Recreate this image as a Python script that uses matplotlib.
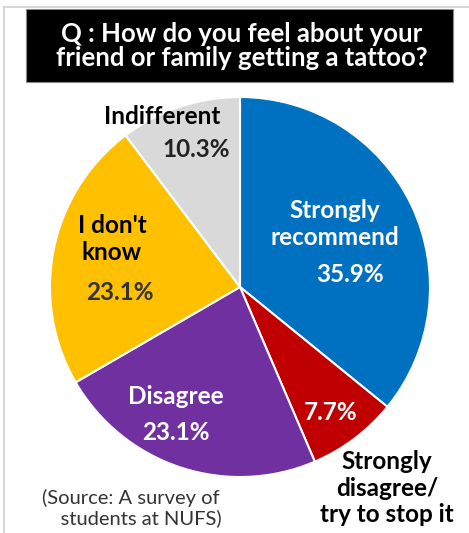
import matplotlib.pyplot as plt
from matplotlib.patches import Rectangle

# data
categories = ['Strongly\nrecommend', 'Strongly disagree/\ntry to stop it', 'Disagree', "I don't\nknow", 'Indifferent']
shares = [35.9, 7.7, 23.1, 23.1, 10.3]
colors = ['#0070C0', '#C00000', '#7030A0', '#FFC000', '#D9D9D9']

W, H = 469, 533
fig = plt.figure(figsize=(W / 100, H / 100), dpi=100)
fig.patch.set_facecolor('white')
plt.rcParams['font.family'] = ['Lato', 'DejaVu Sans']


def px(x, y):
    # pixel coords (top-left origin) -> figure fraction
    return x / W, 1 - y / H


# outer light frame (top and left)
fig.add_artist(plt.Line2D([4 / W, 1], [1 - 7 / H, 1 - 7 / H], color='#d0d0d0', lw=1.2))
fig.add_artist(plt.Line2D([4 / W, 4 / W], [0, 1 - 7 / H], color='#d0d0d0', lw=1.2))

# title box
x0, y0 = px(26, 82)
fig.add_artist(Rectangle((x0, y0), (453 - 26) / W, (82 - 9) / H, transform=fig.transFigure,
                         facecolor='black', edgecolor='#888888', lw=0.8))
fig.text(*px(242, 46), 'Q : How do you feel about your\nfriend or family getting a tattoo?',
         color='white', fontsize=18.5, fontweight='bold', ha='center', va='center', linespacing=1.05)

# pie
cx, cy, r = 240, 287, 190
ax = fig.add_axes([(cx - r) / W, (H - cy - r) / H, 2 * r / W, 2 * r / H])
ax.pie(shares, colors=colors, startangle=90, counterclock=False,
       wedgeprops=dict(edgecolor='white', linewidth=1.5))
ax.set_xlim(-1, 1)
ax.set_ylim(-1, 1)
ax.set_aspect('equal')
ax.axis('off')

bold = dict(fontsize=17.5, fontweight='bold', ha='center', va='center', linespacing=1.2)

fig.text(*px(335, 224), 'Strongly\nrecommend', color='white', **bold)
fig.text(*px(350, 274), f'{shares[0]}%', color='white', **bold)
fig.text(*px(331, 412), f'{shares[1]}%', color='white', **bold)
fig.text(*px(387, 488), 'Strongly\ndisagree/\ntry to stop it', color='black', **bold)
fig.text(*px(176, 396), 'Disagree', color='white', **bold)
fig.text(*px(176, 433), f'{shares[2]}%', color='white', **bold)
fig.text(*px(112, 239), "I don't\nknow", color='black', **bold)
fig.text(*px(120, 292), f'{shares[3]}%', color='#333333', **bold)
fig.text(*px(162, 116), 'Indifferent', color='black', **bold)
fig.text(*px(196, 150), f'{shares[4]}%', color='#222222', **bold)

fig.text(*px(131, 508), '(Source: A survey of\n    students at NUFS)', color='#333333',
         fontsize=14.5, ha='center', va='center', linespacing=1.1)

fig.savefig('out.png', dpi=100, facecolor='white')
